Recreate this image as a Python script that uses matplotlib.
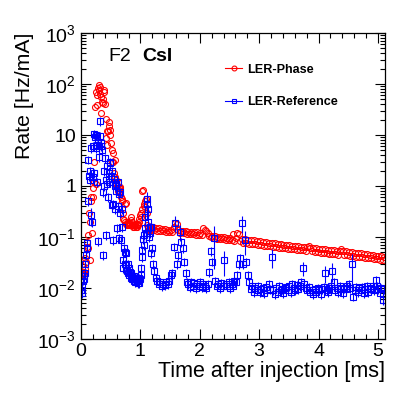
import numpy as np
import matplotlib
matplotlib.use("Agg")
import matplotlib.pyplot as plt
from matplotlib.ticker import LogLocator, FuncFormatter, MultipleLocator, NullFormatter
from matplotlib.lines import Line2D

plt.rcParams['font.family'] = ['Liberation Sans', 'DejaVu Sans']
plt.rcParams['mathtext.fontset'] = 'custom'
plt.rcParams['mathtext.rm'] = 'Liberation Sans'
plt.rcParams['mathtext.it'] = 'Liberation Sans:italic'
plt.rcParams['mathtext.bf'] = 'Liberation Sans:bold'

# ---------------- data ----------------
# bin centres: fine bins (0.01 ms) up to 1.2 ms, then 0.025 ms bins
early_t = np.arange(120) * 0.01 + 0.005
late_t = np.arange(157) * 0.025 + 1.21

red_early = [
    0.018, 0.019, 0.018, 0.02, 0.019, 0.021, 0.024, 0.038, 0.032, 0.065,
    0.08, 0.11, 0.06, 0.3, 0.2, 0.035, 0.6, 0.5, 0.12, 0.9,
    0.62, 1.2, 3.0, 35, 1.1, 70, 38, 60, 85, 75,
    95, 88, 65, 27, 55, 45, 50, 42, 70, 75,
    40, 21, 8.7, 12, 6.3, 12, 15, 18, 12.6, 10,
    7.0, 3.0, 5.0, 4.4, 3.0, 1.8, 3.2, 1.5, 1.3, 1.1,
    1.0, 1.2, 0.8, 0.9, 0.85, 0.95, 0.9, 0.6, 0.55, 0.5,
    0.23, 0.3, 0.22, 0.2, 0.45, 0.47, 0.18, 0.17, 0.19, 0.2,
    0.18, 0.17, 0.19, 0.22, 0.25, 0.2, 0.17, 0.16, 0.17, 0.16,
    0.17, 0.18, 0.16, 0.17, 0.16, 0.18, 0.17, 0.2, 0.23, 0.27,
    0.3, 0.25, 0.35, 0.8, 0.83, 0.4, 0.45, 0.38, 0.5, 0.55,
    0.3, 0.17, 0.16, 0.15, 0.14, 0.15, 0.14, 0.145, 0.14, 0.15,
]
red_late = [
    0.155, 0.138, 0.15, 0.134, 0.148, 0.13, 0.146, 0.13, 0.142, 0.128,
    0.14, 0.126, 0.138, 0.124, 0.16, 0.19, 0.18, 0.14, 0.122, 0.132,
    0.13, 0.118, 0.132, 0.116, 0.128, 0.114, 0.127, 0.112, 0.126, 0.111,
    0.124, 0.11, 0.122, 0.109, 0.15, 0.14, 0.13, 0.118, 0.104, 0.1,
    0.105, 0.094, 0.104, 0.093, 0.102, 0.092, 0.101, 0.09, 0.099, 0.089,
    0.097, 0.087, 0.096, 0.086, 0.115, 0.085, 0.094, 0.118, 0.112, 0.083,
    0.092, 0.077, 0.09, 0.076, 0.089, 0.074, 0.087, 0.073, 0.086, 0.072,
    0.084, 0.07, 0.083, 0.069, 0.081, 0.068, 0.08, 0.067, 0.078, 0.066,
    0.077, 0.064, 0.076, 0.063, 0.074, 0.062, 0.073, 0.061, 0.071, 0.06,
    0.071, 0.059, 0.07, 0.058, 0.068, 0.057, 0.067, 0.056, 0.066, 0.055,
    0.065, 0.055, 0.064, 0.054, 0.063, 0.068, 0.062, 0.052, 0.061, 0.051,
    0.06, 0.05, 0.059, 0.049, 0.058, 0.049, 0.057, 0.048, 0.056, 0.047,
    0.056, 0.047, 0.055, 0.046, 0.054, 0.045, 0.053, 0.057, 0.052, 0.044,
    0.052, 0.044, 0.051, 0.043, 0.05, 0.042, 0.049, 0.041, 0.048, 0.041,
    0.048, 0.04, 0.047, 0.039, 0.046, 0.039, 0.045, 0.038, 0.044, 0.037,
    0.043, 0.037, 0.042, 0.036, 0.042, 0.036, 0.041,
]
blue_early = [
    0.009, 0.011, 0.008, 0.014, 0.017, 0.015, 0.02, 0.03, 0.045, 0.06,
    0.076, 3.3, 0.5, 1.6, 2.0, 1.3, 0.27, 5.5, 0.2, 1.5,
    6.0, 1.8, 10.5, 9.0, 10, 5.5, 6.5, 1.2, 0.085, 6.0,
    3.7, 9.5, 19, 7.0, 6.0, 5.0, 0.045, 0.75, 2.0, 1.0,
    3.5, 1.3, 0.11, 1.1, 2.5, 0.6, 1.8, 1.2, 2.8, 3.0,
    1.6, 0.43, 2.0, 0.45, 0.087, 1.4, 1.0, 0.35, 0.8, 1.1,
    0.15, 0.4, 1.2, 0.7, 0.094, 0.75, 0.3, 0.087, 0.35, 0.16,
    0.035, 0.025, 0.06, 0.051, 0.03, 0.048, 0.028, 0.022, 0.03, 0.02,
    0.025, 0.018, 0.021, 0.016, 0.0195, 0.017, 0.015, 0.016, 0.014, 0.017,
    0.015, 0.013, 0.016, 0.014, 0.015, 0.0125, 0.014, 0.016, 0.0126, 0.015,
    0.018, 0.025, 0.04, 0.056, 0.09, 0.11, 0.07, 0.15, 0.25, 0.12,
    0.45, 0.55, 0.2, 0.35, 0.1, 0.16, 0.12, 0.048, 0.16, 0.06,
]
blue_late = [
    0.03, 0.022, 0.016, 0.014, 0.012, 0.013, 0.011, 0.012, 0.0115, 0.013,
    0.012, 0.014, 0.018, 0.02, 0.065, 0.19, 0.03, 0.045, 0.126, 0.08,
    0.06, 0.033, 0.02, 0.013, 0.012, 0.0105, 0.013, 0.011, 0.0125, 0.01,
    0.012, 0.011, 0.013, 0.0105, 0.012, 0.011, 0.01, 0.012, 0.021, 0.052,
    0.033, 0.094, 0.014, 0.011, 0.012, 0.01, 0.0125, 0.011, 0.035, 0.012,
    0.011, 0.013, 0.01, 0.012, 0.011, 0.014, 0.013, 0.018, 0.03, 0.038,
    0.19, 0.03, 0.087, 0.033, 0.018, 0.013, 0.0095, 0.011, 0.0085, 0.01,
    0.009, 0.011, 0.0085, 0.0095, 0.01, 0.008, 0.0105, 0.009, 0.012, 0.0095,
    0.041, 0.009, 0.0075, 0.01, 0.0085, 0.011, 0.009, 0.0095, 0.008, 0.01,
    0.0105, 0.009, 0.011, 0.0085, 0.012, 0.01, 0.009, 0.0115, 0.0095, 0.011,
    0.013, 0.025, 0.012, 0.01, 0.009, 0.0105, 0.0085, 0.009, 0.0075, 0.0095,
    0.0085, 0.01, 0.009, 0.0075, 0.0095, 0.0105, 0.02, 0.009, 0.0085, 0.01,
    0.011, 0.022, 0.013, 0.009, 0.01, 0.0085, 0.011, 0.0095, 0.008, 0.01,
    0.0095, 0.011, 0.012, 0.01, 0.03, 0.0068, 0.009, 0.0105, 0.0085, 0.01,
    0.009, 0.0105, 0.008, 0.0095, 0.011, 0.0085, 0.01, 0.0095, 0.011, 0.009,
    0.0145, 0.011, 0.0095, 0.008, 0.01, 0.0058, 0.0095,
]
# relative uncertainties of the reference series (larger on isolated spikes)
blue_relerr_typical = 0.2
blue_spike_t = [0.165, 1.105, 1.115, 1.585, 1.66, 2.235, 2.41, 2.71, 2.76, 3.21, 3.735, 4.11, 4.235, 4.56]
blue_spike_relerr = [0.4, 0.5, 0.4, 0.35, 0.35, 0.75, 0.5, 0.37, 0.5, 0.4, 0.3, 0.37, 0.4, 0.55]

series_labels = ['LER-Phase', 'LER-Reference']

# ---------------- plot ----------------
t = np.concatenate([early_t, late_t])
red = np.array(red_early + red_late, dtype=float)
blue = np.array(blue_early + blue_late, dtype=float)
relerr = np.full(t.shape, blue_relerr_typical)
for st, se in zip(blue_spike_t, blue_spike_relerr):
    relerr[np.argmin(np.abs(t - st))] = se
blue_err = blue * relerr

fig = plt.figure(figsize=(4.05, 3.94), dpi=100)
ax = fig.add_axes([81/405, (394-339)/394, (385-81)/405, (339-33)/394])

ax.plot(t, red, linestyle='none', marker='o', ms=4.3, mfc='none', mec='red', mew=0.8)
ax.errorbar(t, blue, yerr=blue_err, fmt='s', ms=4.3, mfc='none', mec='blue', mew=0.8,
            ecolor='blue', elinewidth=0.8, capsize=0)

ax.set_yscale('log')
ax.set_xlim(0, 5.12)
ax.set_ylim(1e-3, 1e3)

def yfmt(v, pos):
    n = int(round(np.log10(v)))
    if n == 0:
        return '1'
    if n == 1:
        return '10'
    return r'$\mathregular{10^{%d}}$' % n

ax.yaxis.set_major_locator(LogLocator(base=10, numticks=20))
ax.yaxis.set_minor_locator(LogLocator(base=10, subs=np.arange(2, 10), numticks=20))
ax.yaxis.set_major_formatter(FuncFormatter(yfmt))
ax.yaxis.set_minor_formatter(NullFormatter())
ax.xaxis.set_major_locator(MultipleLocator(1))
ax.xaxis.set_minor_locator(MultipleLocator(0.2))

ax.tick_params(which='both', direction='in', top=True, right=True, width=0.8, labelsize=14)
ax.tick_params(which='major', length=7)
ax.tick_params(which='minor', length=3.5)
ax.tick_params(axis='x', pad=3)
for s in ax.spines.values():
    s.set_linewidth(0.9)

ax.set_xlabel('Time after injection [ms]', fontsize=15.5, loc='right')
ax.xaxis.set_label_coords(1.0, -0.072)
ax.set_ylabel('Rate [Hz/mA]', fontsize=15.3, loc='top')
ax.yaxis.set_label_coords(-0.155, 1.0)

ax.text(0.089, 0.908, 'F2', transform=ax.transAxes, fontsize=14, va='baseline')
ax.text(0.2, 0.908, 'CsI', transform=ax.transAxes, fontsize=14, fontweight='bold', va='baseline')

handles = [
    Line2D([], [], color='red', lw=0.8, marker='o', ms=3.5, mfc='none', mec='red', mew=0.8),
    Line2D([], [], color='blue', lw=0.8, marker='s', ms=3.5, mfc='none', mec='blue', mew=0.8),
]
ax.legend(handles, series_labels, loc='upper left', bbox_to_anchor=(0.475, 0.899),
          frameon=False, prop={'weight': 'bold', 'size': 9.1}, handlelength=1.35,
          handletextpad=0.35, labelspacing=1.6, borderpad=0, borderaxespad=0, numpoints=1)

fig.savefig('out.png', dpi=100)
